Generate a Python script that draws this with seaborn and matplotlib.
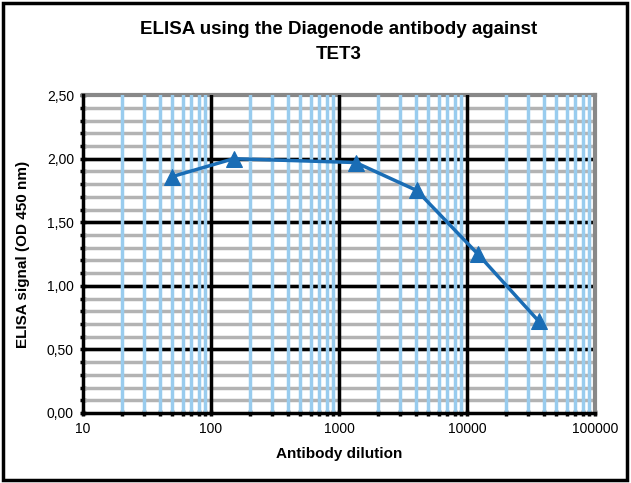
import numpy as np
import matplotlib
matplotlib.use('Agg')
import matplotlib.pyplot as plt
import matplotlib.ticker as mticker
from matplotlib.patches import Rectangle
import pandas as pd
import seaborn as sns

dilution = [50, 150, 1350, 4050, 12150, 36450]
signal = [1.86, 2.00, 1.97, 1.75, 1.25, 0.72]

title = 'ELISA using the Diagenode antibody against\nTET3'
xlabel = 'Antibody dilution'
ylabel = 'ELISA signal (OD 450 nm)'

sns.set_style('white')
plt.rcParams['font.family'] = ['Liberation Sans', 'DejaVu Sans']
plt.rcParams['text.color'] = 'black'
plt.rcParams['axes.labelcolor'] = 'black'
plt.rcParams['xtick.color'] = 'black'
plt.rcParams['ytick.color'] = 'black'

df = pd.DataFrame({'dilution': dilution, 'signal': signal})

fig = plt.figure(figsize=(6.31, 4.83), dpi=100)
ax = fig.add_axes([0.1315, 0.145, 0.8115, 0.658])

ax.set_xscale('log')
ax.set_xlim(10, 100000)
ax.set_ylim(0, 2.5)

# grid layers: gray minor horizontals, black major horizontals, blue minor verticals, black decades
for y in np.arange(0.1, 2.5, 0.1):
    ax.axhline(y, color='#b3b3b3', lw=2.5, zorder=1)
for y in [0.5, 1.0, 1.5, 2.0]:
    ax.axhline(y, color='black', lw=2.5, zorder=2)
for dec in [10, 100, 1000, 10000]:
    for m in range(2, 10):
        ax.axvline(dec * m, color='#99ccee', lw=2.5, zorder=3)
for d in [100, 1000, 10000]:
    ax.axvline(d, color='black', lw=2.5, zorder=4)

sns.lineplot(data=df, x='dilution', y='signal', ax=ax, color='#1a6db5',
             marker='^', markersize=11, markeredgecolor='#1a6db5', lw=2.5, zorder=6)

ax.xaxis.set_major_locator(mticker.FixedLocator([10, 100, 1000, 10000, 100000]))
ax.xaxis.set_major_formatter(mticker.FuncFormatter(lambda v, p: f'{int(v)}'))
ax.xaxis.set_minor_locator(mticker.LogLocator(base=10, subs=np.arange(2, 10)))
ax.xaxis.set_minor_formatter(mticker.NullFormatter())
ax.yaxis.set_major_locator(mticker.MultipleLocator(0.5))
ax.yaxis.set_minor_locator(mticker.MultipleLocator(0.1))
ax.yaxis.set_major_formatter(mticker.FuncFormatter(lambda v, p: f'{v:.2f}'.replace('.', ',')))

ax.tick_params(axis='both', which='major', direction='inout', length=5, width=2.5,
               labelsize=10, color='black', labelcolor='black', bottom=True, left=True, pad=4)
ax.tick_params(axis='both', which='minor', direction='inout', length=4, width=2.5,
               color='black', bottom=True, left=True)

for s in ['top', 'right']:
    ax.spines[s].set_color('#888888')
    ax.spines[s].set_linewidth(3)
for s in ['left', 'bottom']:
    ax.spines[s].set_color('black')
    ax.spines[s].set_linewidth(2.5)
    ax.spines[s].set_zorder(5)

ax.set_xlabel(xlabel, fontsize=11, fontweight='bold', labelpad=8, color='black')
ax.set_ylabel(ylabel, fontsize=11, fontweight='bold', labelpad=12, color='black')
ax.set_title(title, fontsize=13.5, fontweight='bold', pad=26, linespacing=1.65, color='black')

fig.patches.append(Rectangle((0.004, 0.006), 0.99, 0.987, transform=fig.transFigure,
                             fill=False, edgecolor='black', lw=2.5))

fig.savefig('out.png', dpi=100)
